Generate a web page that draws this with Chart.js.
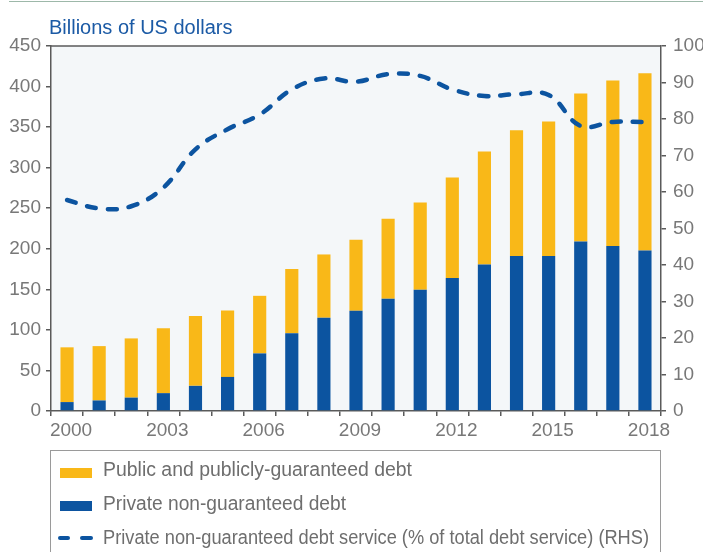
<!DOCTYPE html>
<html>
<head>
<meta charset="utf-8">
<script src="https://cdn.jsdelivr.net/npm/chart.js@4.4.1/dist/chart.umd.min.js"></script>
<style>
  html, body { margin: 0; padding: 0; background: #ffffff; }
  body { width: 703px; height: 552px; position: relative; overflow: hidden; font-family: "Liberation Sans", Arial, sans-serif; }
  #c { position: absolute; left: 0; top: 0; }
  #topline { position: absolute; left: 9px; right: 0; top: 1px; height: 0; border-top: 1.5px solid #9db8a9; }
  #title { position: absolute; left: 49px; top: 17px; font-size: 20px; line-height: 20px; color: #1b5aa5; white-space: nowrap; }
  #legend { position: absolute; left: 50px; top: 450px; width: 611px; height: 130px; box-sizing: border-box; border: 1.5px solid #9a9a9a; }
  .lt { position: absolute; left: 52px; font-size: 20px; line-height: 20px; color: #6e6e6e; white-space: nowrap; transform-origin: 0 50%; }
  .sw { position: absolute; left: 9px; width: 32px; height: 10px; }
  .dash { position: absolute; height: 4px; border-radius: 2px; background: #0c54a0; }
</style>
</head>
<body>
<div id="topline"></div>
<canvas id="c" width="703" height="552"></canvas>
<div id="title">Billions of US dollars</div>
<div id="legend"></div>
<script>
// ---- data ----
const years = ["2000","2001","2002","2003","2004","2005","2006","2007","2008","2009","2010","2011","2012","2013","2014","2015","2016","2017","2018"];
const privateDebt = [11, 13, 16.5, 22, 31, 42, 71, 96, 115, 123.5, 138.5, 149.5, 164, 180.5, 191, 191, 209, 203.5, 198];
const publicDebt = [67.5, 67, 73, 80, 86, 82, 71, 79, 78, 87.5, 98.5, 107.5, 124, 139.5, 155, 166, 182.5, 204, 218.5];
const debtServiceShare = [57.8, 55.5, 56.1, 61.2, 71.7, 77.2, 81.2, 88.1, 91.1, 90.2, 92.3, 91.8, 88.1, 86.3, 86.8, 86.6, 78.1, 79.2, 79.2];
const leftTicks = { min: 0, max: 450, step: 50 };
const rightTicks = { min: 0, max: 100, step: 10 };
const legendLabels = [
  "Public and publicly-guaranteed debt",
  "Private non-guaranteed debt",
  "Private non-guaranteed debt service (% of total debt service) (RHS)"
];

const YELLOW = "#f9b818";
const BLUE = "#0c54a0";
const AXIS = "#5a5a5a";
const TICKFONT = { family: "Liberation Sans", size: 19 };
const TICKCOLOR = "#787878";

// legend (HTML)
const lg = document.getElementById("legend");
function addRow(top, swHtml, text, targetW) {
  const t = document.createElement("div");
  t.className = "lt"; t.style.top = top + "px"; t.textContent = text;
  lg.appendChild(t);
  const w = t.getBoundingClientRect().width;
  if (w > 0) t.style.transform = "scaleX(" + (targetW / w) + ")";
  lg.insertAdjacentHTML("beforeend", swHtml);
}
addRow(8.3, '<div class="sw" style="top:16.5px;background:' + YELLOW + '"></div>', legendLabels[0], 309);
addRow(42.3, '<div class="sw" style="top:50px;background:' + BLUE + '"></div>', legendLabels[1], 243);
addRow(75.6, '<div class="dash" style="left:7px;width:12px;top:85px"></div><div class="dash" style="left:29px;width:13px;top:85px"></div>', legendLabels[2], 546);

const plotBg = {
  id: "plotBg",
  beforeDraw(chart) {
    const { ctx, chartArea: a } = chart;
    ctx.save();
    ctx.fillStyle = "#f4f7f9";
    ctx.fillRect(a.left, a.top, a.right - a.left, a.bottom - a.top);
    ctx.restore();
  },
  afterDraw(chart) {
    const { ctx, chartArea: a } = chart;
    ctx.save();
    ctx.strokeStyle = AXIS;
    ctx.lineWidth = 1.5;
    ctx.beginPath();
    ctx.moveTo(a.left, a.top);
    ctx.lineTo(a.right, a.top);
    ctx.stroke();
    ctx.restore();
  }
};

new Chart(document.getElementById("c"), {
  data: {
    labels: years,
    datasets: [
      {
        type: "bar",
        label: legendLabels[1],
        data: privateDebt,
        backgroundColor: BLUE,
        yAxisID: "y",
        stack: "debt",
        barPercentage: 0.41,
        categoryPercentage: 1,
        order: 1
      },
      {
        type: "bar",
        label: legendLabels[0],
        data: publicDebt,
        backgroundColor: YELLOW,
        yAxisID: "y",
        stack: "debt",
        barPercentage: 0.41,
        categoryPercentage: 1,
        order: 2
      },
      {
        type: "line",
        label: legendLabels[2],
        data: debtServiceShare,
        yAxisID: "y1",
        borderColor: BLUE,
        borderWidth: 4.5,
        borderDash: [9, 12],
        borderCapStyle: "round",
        tension: 0.4,
        pointRadius: 0,
        fill: false,
        order: 0
      }
    ]
  },
  options: {
    responsive: false,
    animation: false,
    devicePixelRatio: 1,
    layout: { padding: { top: 46, bottom: 111, left: 0, right: 0 } },
    plugins: { legend: { display: false }, tooltip: { enabled: false }, title: { display: false } },
    scales: {
      x: {
        stacked: true,
        offset: true,
        grid: { offset: true, drawOnChartArea: false, drawTicks: true, tickLength: 5, color: AXIS, lineWidth: 1.5 },
        border: { display: true, color: AXIS, width: 1.5 },
        ticks: {
          autoSkip: false, maxRotation: 0, font: TICKFONT, color: TICKCOLOR, padding: 3, labelOffset: 4,
          callback: function (v, i) { return i % 3 === 0 || i === years.length - 1 ? years[i] : ""; }
        },
        afterFit(s) { s.height = 30; }
      },
      y: {
        position: "left",
        stacked: true,
        min: leftTicks.min, max: leftTicks.max,
        grid: { drawOnChartArea: false, drawTicks: true, tickLength: 5, color: AXIS, lineWidth: 1.5 },
        border: { display: true, color: AXIS, width: 1.5 },
        ticks: { stepSize: leftTicks.step, font: TICKFONT, color: TICKCOLOR, padding: 5 },
        afterFit(s) { s.width = 51; }
      },
      y1: {
        position: "right",
        stacked: false,
        min: rightTicks.min, max: rightTicks.max,
        grid: { drawOnChartArea: false, drawTicks: true, tickLength: 5, color: AXIS, lineWidth: 1.5 },
        border: { display: true, color: AXIS, width: 1.5 },
        ticks: { stepSize: rightTicks.step, font: TICKFONT, color: TICKCOLOR, padding: 7 },
        afterFit(s) { s.width = 42; }
      }
    }
  },
  plugins: [plotBg]
});
</script>
</body>
</html>
